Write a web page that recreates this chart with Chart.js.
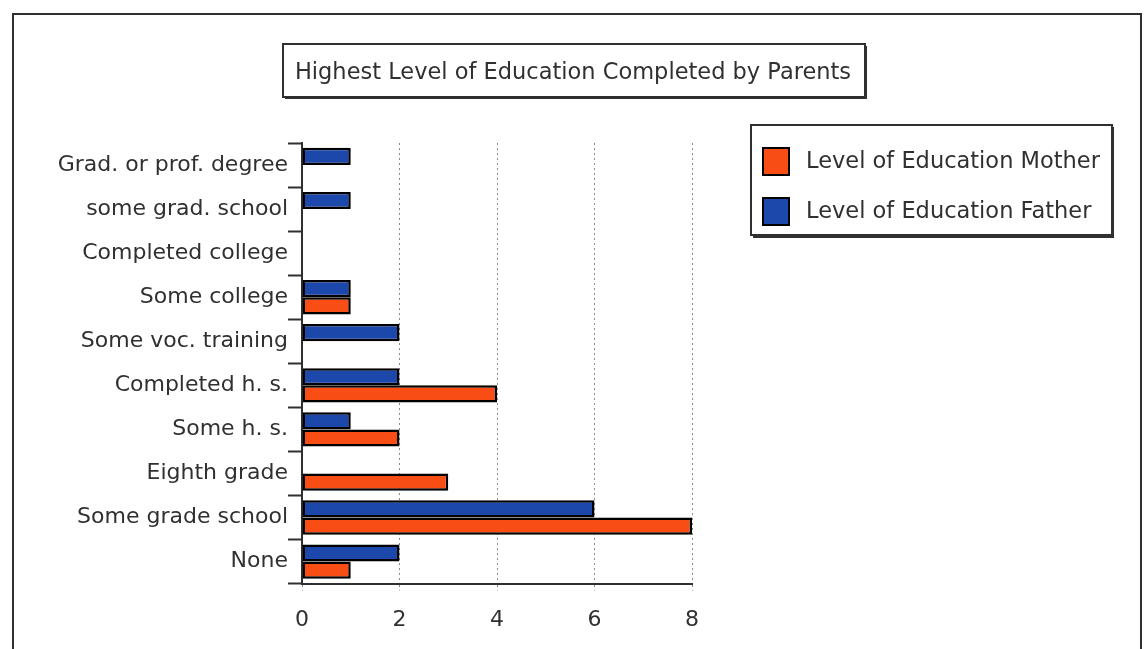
<!DOCTYPE html>
<html>
<head>
<meta charset="utf-8">
<script src="https://cdn.jsdelivr.net/npm/chart.js@4"></script>
<style>
  html, body { margin: 0; padding: 0; background: #fff; }
  #wrap { width: 1147px; height: 649px; }
</style>
</head>
<body>
<div id="wrap"><canvas id="edu"></canvas></div>
<script>
const categories = [
    'Grad. or prof. degree',
    'some grad. school',
    'Completed college',
    'Some college',
    'Some voc. training',
    'Completed h. s.',
    'Some h. s.',
    'Eighth grade',
    'Some grade school',
    'None'
];
const motherValues = [0, 0, 0, 1, 0, 4, 2, 3, 8, 1];
const fatherValues = [1, 1, 0, 1, 2, 2, 1, 0, 6, 2];
const xTicks = [0, 2, 4, 6, 8];

const titleText = 'Highest Level of Education Completed by Parents';

const colors = {
    orange: 'rgb(248, 78, 22)',
    blue: 'rgb(28, 72, 172)',
    ink: '#303030',
    grid: '#8a8a8a'
};
const fontFamily = '"DejaVu Sans", sans-serif';

// frame, title box and legend box drawn on top of the chart
const decorations = {
    id: 'decorations',
    afterDraw(chart) {
        const ctx = chart.ctx;
        ctx.save();
        ctx.strokeStyle = colors.ink;
        ctx.lineWidth = 2;
        ctx.strokeRect(13, 14, 1128, 660);

        // title
        ctx.strokeRect(283, 44, 582, 53);
        ctx.beginPath();
        ctx.moveTo(866, 46); ctx.lineTo(866, 98); ctx.lineTo(285, 98);
        ctx.stroke();
        ctx.fillStyle = colors.ink;
        ctx.font = '22.5px ' + fontFamily;
        ctx.textAlign = 'center';
        ctx.textBaseline = 'middle';
        ctx.fillText(titleText, 573, 73);

        // legend
        ctx.strokeRect(751, 125, 361, 110);
        ctx.beginPath();
        ctx.moveTo(1113, 127); ctx.lineTo(1113, 237); ctx.lineTo(753, 237);
        ctx.stroke();
        ctx.font = '22.5px ' + fontFamily;
        ctx.textAlign = 'left';
        const items = chart.data.datasets.slice().reverse();
        items.forEach((ds, i) => {
            const y = 148 + i * 50;
            ctx.fillStyle = ds.backgroundColor;
            ctx.fillRect(763, y, 26, 27);
            ctx.strokeStyle = '#000';
            ctx.strokeRect(763, y, 26, 27);
            ctx.fillStyle = colors.ink;
            ctx.fillText(ds.label, 806, y + 14);
        });
        ctx.restore();
    }
};

new Chart(document.getElementById('edu'), {
    type: 'bar',
    data: {
        labels: categories,
        datasets: [
            {
                label: 'Level of Education Father',
                data: fatherValues,
                backgroundColor: colors.blue,
                borderColor: '#000',
                borderWidth: 2.5,
                borderSkipped: false
            },
            {
                label: 'Level of Education Mother',
                data: motherValues,
                backgroundColor: colors.orange,
                borderColor: '#000',
                borderWidth: 2.5,
                borderSkipped: false
            }
        ]
    },
    options: {
        indexAxis: 'y',
        responsive: true,
        maintainAspectRatio: false,
        animation: false,
        events: [],
        categoryPercentage: 0.78,
        barPercentage: 1.0,
        layout: {
            padding: { top: 143, left: 12, right: 455, bottom: 0 }
        },
        plugins: {
            legend: { display: false },
            title: { display: false },
            tooltip: { enabled: false }
        },
        scales: {
            x: {
                min: 0,
                max: 8,
                afterBuildTicks: (scale) => {
                    scale.ticks = xTicks.map(v => ({ value: v }));
                },
                border: { display: true, color: colors.ink, width: 2, dash: [2, 3] },
                grid: {
                    color: colors.grid,
                    lineWidth: 1,
                    tickLength: 7,
                    tickColor: colors.grid,
                    tickBorderDash: [2, 3]
                },
                ticks: {
                    color: colors.ink,
                    padding: 16,
                    font: { family: fontFamily, size: 22 }
                }
            },
            y: {
                afterFit: (scale) => { scale.width = 290; },
                border: { display: true, color: colors.ink, width: 2 },
                grid: {
                    drawOnChartArea: false,
                    tickLength: 14,
                    tickWidth: 2,
                    tickColor: colors.ink
                },
                ticks: {
                    color: colors.ink,
                    padding: 0,
                    font: { family: fontFamily, size: 22 }
                }
            }
        }
    },
    plugins: [decorations]
});
</script>
</body>
</html>
